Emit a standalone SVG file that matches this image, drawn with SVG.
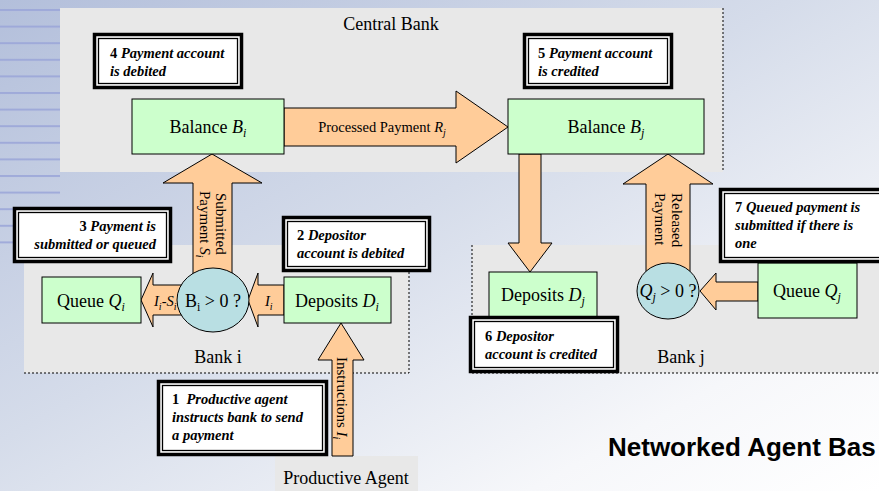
<svg xmlns="http://www.w3.org/2000/svg" width="879" height="491" viewBox="0 0 879 491">
  <defs>
    <linearGradient id="bg" x1="0" y1="0" x2="1" y2="1">
      <stop offset="0" stop-color="#b3bfdb"/>
      <stop offset="0.45" stop-color="#d5dcea"/>
      <stop offset="0.8" stop-color="#f6f7fa"/>
      <stop offset="1" stop-color="#ffffff"/>
    </linearGradient>
    <linearGradient id="stripeFade" x1="0" y1="0" x2="0" y2="1">
      <stop offset="0" stop-color="#8f9bd6" stop-opacity="0.9"/>
      <stop offset="1" stop-color="#8f9bd6" stop-opacity="0.2"/>
    </linearGradient>
    <pattern id="stripes" x="0" y="9" width="60" height="16.6" patternUnits="userSpaceOnUse">
      <rect x="0" y="0" width="60" height="2" fill="#9aa5d8"/>
    </pattern>
  </defs>
  <style>
    .region { fill: #e8e8e8; }
    .dotted { fill: none; stroke: #000; stroke-width: 1; stroke-dasharray: 2 2; }
    .node { fill: #ccffcc; stroke: #000; stroke-width: 1; }
    .flow { fill: #ffcc99; stroke: #000; stroke-width: 1; stroke-linejoin: miter; }
    .test { fill: #b9dfe3; stroke: #000; stroke-width: 1; }
    .note-outer { fill: #ffffff; stroke: #000; stroke-width: 3.5; }
    .note-inner { fill: none; stroke: #000; stroke-width: 1.3; }
    text { font-family: "Liberation Serif", "Times New Roman", serif; fill: #000; }
    .lbl { font-size: 18px; }
    .small { font-size: 14.5px; }
    .vlbl { font-size: 15px; }
    .note { font-size: 14.5px; font-weight: bold; font-style: italic; }
    .num { font-style: normal; }
    .it { font-style: italic; }
    .title { font-family: "Liberation Sans", Arial, sans-serif; font-size: 26px; font-weight: bold; }
  </style>

  <!-- backdrop -->
  <rect x="0" y="0" width="879" height="491" fill="url(#bg)"/>
  <rect x="0" y="0" width="60" height="250" fill="url(#stripes)" opacity="0.85"/>

  <!-- institution areas -->
  <g id="central-bank-area">
    <rect class="region" x="60" y="8" width="663" height="164"/>
    <line class="dotted" x1="723" y1="8" x2="723" y2="172"/>
    <text class="lbl" x="391" y="30" text-anchor="middle">Central Bank</text>
  </g>
  <g id="bank-i-area">
    <rect class="region" x="24" y="245" width="385" height="128"/>
    <polyline class="dotted" points="24,373 409,373 409,245"/>
    <text class="lbl" x="218" y="363" text-anchor="middle">Bank i</text>
  </g>
  <g id="bank-j-area">
    <rect class="region" x="472" y="245" width="407" height="128"/>
    <polyline class="dotted" points="472,245 472,373 879,373"/>
    <text class="lbl" x="681" y="363" text-anchor="middle">Bank j</text>
  </g>
  <g id="productive-agent">
    <rect class="region" x="275" y="456" width="143" height="35"/>
    <text class="lbl" x="346" y="484" text-anchor="middle">Productive Agent</text>
  </g>

  <!-- block arrows -->
  <g id="connectors">
    <path class="flow" d="M284,108 H456 V91 L508,127 L456,163 V146 H284 Z"/>
    <text class="small" x="382" y="132" text-anchor="middle">Processed Payment <tspan class="it">R</tspan><tspan class="it" font-size="10" dy="4">j</tspan></text>

    <path class="flow" d="M193,290 V183 H163 L212,154 L262,183 H232 V290 Z"/>
    <text class="vlbl" transform="translate(216,193) rotate(90)">Submitted</text>
    <text class="vlbl" transform="translate(200,191) rotate(90)">Payment <tspan class="it">S</tspan><tspan class="it" font-size="10" dy="4">i</tspan></text>

    <path class="flow" d="M182,285 H153 V273 L141,300 L153,327 V315 H182 Z"/>
    <text class="small" x="154" y="306"><tspan class="it">I</tspan><tspan class="it" font-size="10" dy="4">i</tspan><tspan dy="-4">-</tspan><tspan class="it">S</tspan><tspan class="it" font-size="10" dy="4">i</tspan></text>

    <path class="flow" d="M284,285 H258 V273 L248,300 L258,327 V315 H284 Z"/>
    <text class="small" x="265" y="306"><tspan class="it">I</tspan><tspan class="it" font-size="10" dy="4">i</tspan></text>

    <path class="flow" d="M332,456 V360 H318 L341,323 L364,360 H353 V456 Z"/>
    <text class="vlbl" transform="translate(337,357) rotate(90)">Instructions <tspan class="it">I</tspan><tspan class="it" font-size="10" dy="4">i</tspan></text>

    <path class="flow" d="M519,154 V243 H508 L530,272 L552,243 H541 V154 Z"/>

    <path class="flow" d="M646,275 V184 H623 L668,154 L713,184 H690 V275 Z"/>
    <text class="vlbl" transform="translate(672,193) rotate(90)">Released</text>
    <text class="vlbl" transform="translate(655,193) rotate(90)">Payment</text>

    <path class="flow" d="M758,282 H716 V273 L700,291 L716,310 V301 H758 Z"/>
  </g>

  <!-- accounts -->
  <g id="balance-bi">
    <rect class="node" x="132" y="99" width="152" height="55"/>
    <text class="lbl" x="208" y="133" text-anchor="middle">Balance <tspan class="it">B</tspan><tspan class="it" font-size="12" dy="4">i</tspan></text>
  </g>
  <g id="balance-bj">
    <rect class="node" x="508" y="99" width="196" height="55"/>
    <text class="lbl" x="606" y="133" text-anchor="middle">Balance <tspan class="it">B</tspan><tspan class="it" font-size="12" dy="4">j</tspan></text>
  </g>
  <g id="queue-qi">
    <rect class="node" x="42" y="277" width="99" height="46"/>
    <text class="lbl" x="91" y="307" text-anchor="middle">Queue <tspan class="it">Q</tspan><tspan class="it" font-size="12" dy="4">i</tspan></text>
  </g>
  <g id="deposits-di">
    <rect class="node" x="284" y="277" width="107" height="46"/>
    <text class="lbl" x="337" y="307" text-anchor="middle">Deposits <tspan class="it">D</tspan><tspan class="it" font-size="12" dy="4">i</tspan></text>
  </g>
  <g id="deposits-dj">
    <rect class="node" x="489" y="272" width="108" height="45"/>
    <text class="lbl" x="543" y="301" text-anchor="middle">Deposits <tspan class="it">D</tspan><tspan class="it" font-size="12" dy="4">j</tspan></text>
  </g>
  <g id="queue-qj">
    <rect class="node" x="758" y="263" width="99" height="55"/>
    <text class="lbl" x="807" y="297" text-anchor="middle">Queue <tspan class="it">Q</tspan><tspan class="it" font-size="12" dy="4">j</tspan></text>
  </g>

  <!-- decision points -->
  <g id="test-bi">
    <ellipse class="test" cx="213" cy="300" rx="36" ry="32"/>
    <text class="lbl" x="213" y="307" text-anchor="middle">B<tspan font-size="12" dy="4">i</tspan><tspan dy="-4"> &gt; 0 ?</tspan></text>
  </g>
  <g id="test-qj">
    <ellipse class="test" cx="668" cy="291" rx="31" ry="28"/>
    <text class="lbl" x="668" y="297" text-anchor="middle"><tspan class="it">Q</tspan><tspan class="it" font-size="12" dy="4">j</tspan><tspan dy="-4"> &gt; 0 ?</tspan></text>
  </g>

  <!-- step notes -->
  <g id="note-4">
    <rect class="note-outer" x="94.5" y="34.5" width="147" height="53"/>
    <rect class="note-inner" x="98.5" y="38.5" width="139" height="45"/>
    <text class="note" x="110" y="58"><tspan class="num">4</tspan> Payment account</text>
    <text class="note" x="110" y="76">is debited</text>
  </g>
  <g id="note-5">
    <rect class="note-outer" x="524.5" y="34.5" width="147" height="53"/>
    <rect class="note-inner" x="528.5" y="38.5" width="139" height="45"/>
    <text class="note" x="538" y="58"><tspan class="num">5</tspan> Payment account</text>
    <text class="note" x="538" y="76">is credited</text>
  </g>
  <g id="note-3">
    <rect class="note-outer" x="14.5" y="208.5" width="156" height="53"/>
    <rect class="note-inner" x="18.5" y="212.5" width="148" height="45"/>
    <text class="note" x="156" y="231" text-anchor="end"><tspan class="num">3</tspan> Payment is</text>
    <text class="note" x="156" y="249" text-anchor="end">submitted or queued</text>
  </g>
  <g id="note-2">
    <rect class="note-outer" x="283.5" y="217.5" width="146" height="53"/>
    <rect class="note-inner" x="287.5" y="221.5" width="138" height="45"/>
    <text class="note" x="297" y="240"><tspan class="num">2</tspan> Depositor</text>
    <text class="note" x="297" y="258">account is debited</text>
  </g>
  <g id="note-1">
    <rect class="note-outer" x="158.5" y="381.5" width="168" height="73"/>
    <rect class="note-inner" x="162.5" y="385.5" width="160" height="65"/>
    <text class="note" x="172" y="404" xml:space="preserve"><tspan class="num">1</tspan>  Productive agent</text>
    <text class="note" x="172" y="422">instructs bank to send</text>
    <text class="note" x="172" y="440">a payment</text>
  </g>
  <g id="note-6">
    <rect class="note-outer" x="470.5" y="317.5" width="147" height="54"/>
    <rect class="note-inner" x="474.5" y="321.5" width="139" height="46"/>
    <text class="note" x="485" y="341"><tspan class="num">6</tspan> Depositor</text>
    <text class="note" x="485" y="359">account is credited</text>
  </g>
  <g id="note-7">
    <rect class="note-outer" x="720.5" y="189.5" width="180" height="72"/>
    <rect class="note-inner" x="724.5" y="193.5" width="172" height="64"/>
    <text class="note" x="735" y="212"><tspan class="num">7</tspan> Queued payment is</text>
    <text class="note" x="735" y="230">submitted if there is</text>
    <text class="note" x="735" y="248">one</text>
  </g>

  <text class="title" x="608" y="456">Networked Agent Bas</text>
</svg>
